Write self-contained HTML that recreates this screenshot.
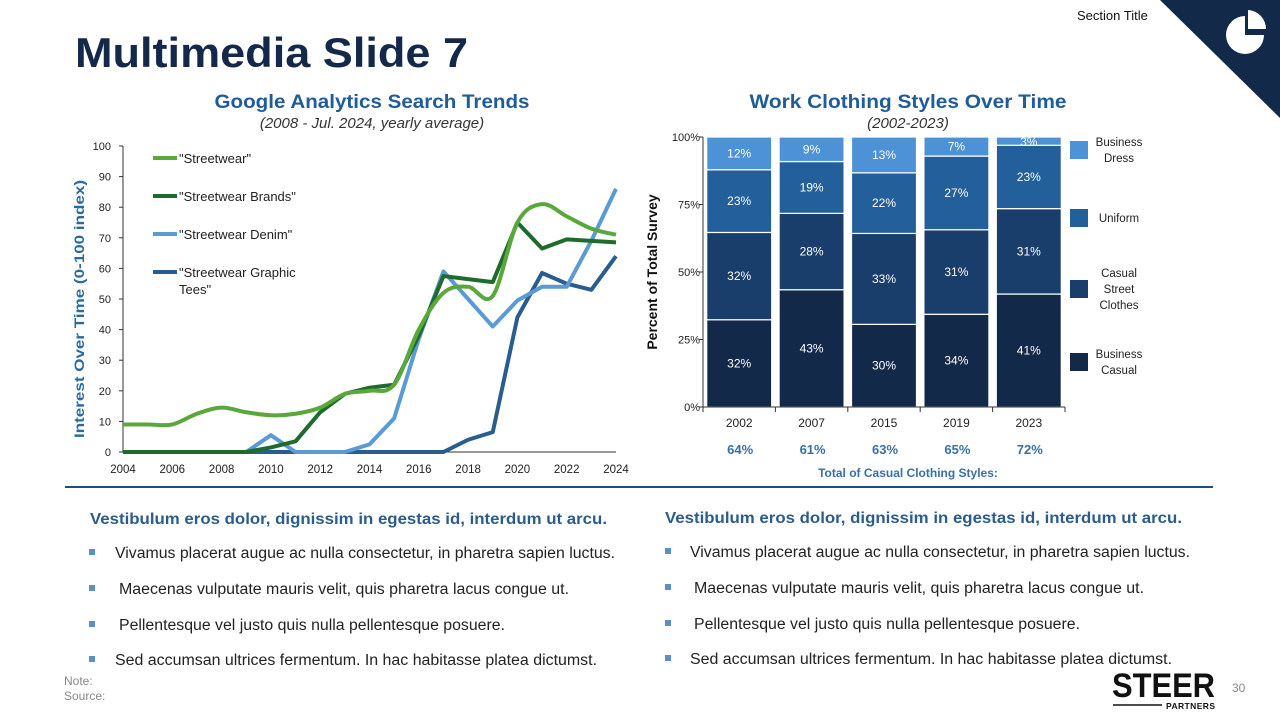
<!DOCTYPE html>
<html><head><meta charset="utf-8">
<style>
html,body{margin:0;padding:0;background:#fff;}
body{width:1280px;height:720px;overflow:hidden;font-family:"Liberation Sans",sans-serif;}
svg text{font-family:"Liberation Sans",sans-serif;}
</style></head>
<body>
<svg id="slide" width="1280" height="720" viewBox="0 0 1280 720" xmlns="http://www.w3.org/2000/svg">
  <polygon points="1160,0 1280,0 1280,118" fill="#13294a"/>
  <g>
    <path d="M1245,16 A19,19 0 1 0 1264,35 L1245,35 Z" fill="#fff"/>
    <path d="M1248,10 A19,19 0 0 1 1266,29 L1248,29 Z" fill="#fff"/>
  </g>
  <text x="1077" y="20" font-size="13" fill="#111">Section Title</text>
  <text x="75" y="67" font-size="42" font-weight="bold" fill="#14294a" textLength="393" lengthAdjust="spacingAndGlyphs">Multimedia Slide 7</text>

  <text x="372" y="108" font-size="19" font-weight="bold" fill="#1f5c99" text-anchor="middle" textLength="315" lengthAdjust="spacingAndGlyphs">Google Analytics Search Trends</text>
  <text x="372" y="128" font-size="15" font-style="italic" fill="#333" text-anchor="middle">(2008 - Jul. 2024, yearly average)</text>
  <g id="lineChart"></g>

  <text x="908" y="108" font-size="19" font-weight="bold" fill="#1f5c99" text-anchor="middle" textLength="317" lengthAdjust="spacingAndGlyphs">Work Clothing Styles Over Time</text>
  <text x="908" y="128" font-size="15" font-style="italic" fill="#333" text-anchor="middle">(2002-2023)</text>
  <g id="barChart"></g>

  <line x1="65" y1="487" x2="1213" y2="487" stroke="#1f4e79" stroke-width="2"/>

  <g>
    <text x="90" y="524" font-size="15.5" font-weight="bold" fill="#2b5c8a" textLength="517" lengthAdjust="spacingAndGlyphs">Vestibulum eros dolor, dignissim in egestas id, interdum ut arcu.</text>
    <rect x="89" y="549" width="6" height="6" fill="#5b8fc7"/><text x="115" y="558" font-size="15.5" fill="#222" textLength="500" lengthAdjust="spacingAndGlyphs">Vivamus placerat augue ac nulla consectetur, in pharetra sapien luctus.</text>
    <rect x="89" y="585" width="6" height="6" fill="#5b8fc7"/><text x="119" y="594" font-size="15.5" fill="#222" textLength="450" lengthAdjust="spacingAndGlyphs">Maecenas vulputate mauris velit, quis pharetra lacus congue ut.</text>
    <rect x="89" y="621" width="6" height="6" fill="#5b8fc7"/><text x="119" y="630" font-size="15.5" fill="#222" textLength="386" lengthAdjust="spacingAndGlyphs">Pellentesque vel justo quis nulla pellentesque posuere.</text>
    <rect x="89" y="656" width="6" height="6" fill="#5b8fc7"/><text x="115" y="665" font-size="15.5" fill="#222" textLength="482" lengthAdjust="spacingAndGlyphs">Sed accumsan ultrices fermentum. In hac habitasse platea dictumst.</text>
  </g>
  <g>
    <text x="665" y="523" font-size="15.5" font-weight="bold" fill="#2b5c8a" textLength="517" lengthAdjust="spacingAndGlyphs">Vestibulum eros dolor, dignissim in egestas id, interdum ut arcu.</text>
    <rect x="665" y="548" width="6" height="6" fill="#5b8fc7"/><text x="690" y="557" font-size="15.5" fill="#222" textLength="500" lengthAdjust="spacingAndGlyphs">Vivamus placerat augue ac nulla consectetur, in pharetra sapien luctus.</text>
    <rect x="665" y="584" width="6" height="6" fill="#5b8fc7"/><text x="694" y="593" font-size="15.5" fill="#222" textLength="450" lengthAdjust="spacingAndGlyphs">Maecenas vulputate mauris velit, quis pharetra lacus congue ut.</text>
    <rect x="665" y="620" width="6" height="6" fill="#5b8fc7"/><text x="694" y="629" font-size="15.5" fill="#222" textLength="386" lengthAdjust="spacingAndGlyphs">Pellentesque vel justo quis nulla pellentesque posuere.</text>
    <rect x="665" y="655" width="6" height="6" fill="#5b8fc7"/><text x="690" y="664" font-size="15.5" fill="#222" textLength="482" lengthAdjust="spacingAndGlyphs">Sed accumsan ultrices fermentum. In hac habitasse platea dictumst.</text>
  </g>
  <text x="64" y="685" font-size="12" fill="#888">Note:</text>
  <text x="64" y="700" font-size="12" fill="#888">Source:</text>
  <g>
    <text x="1112" y="697" font-size="34" font-weight="bold" fill="#111" textLength="103" lengthAdjust="spacingAndGlyphs">STEER</text>
    <line x1="1113" y1="705" x2="1162" y2="705" stroke="#111" stroke-width="1.5"/>
    <text x="1166" y="709" font-size="8.5" font-weight="bold" fill="#111" textLength="49">PARTNERS</text>
  </g>
  <text x="1232" y="692" font-size="12" fill="#888">30</text>
</svg>
<script>
const NS="http://www.w3.org/2000/svg";
function mk(parent,tag,attrs,txt){const e=document.createElementNS(NS,tag);for(const k in attrs)e.setAttribute(k,attrs[k]);if(txt!==undefined)e.textContent=txt;parent.appendChild(e);return e;}

// ---- Line chart data ----
const years=[2004,2005,2006,2007,2008,2009,2010,2011,2012,2013,2014,2015,2016,2017,2018,2019,2020,2021,2022,2023,2024];
const streetwear=[9,9,9,12.5,14.5,13,12,12.5,14.5,19,20,22,40,52,54,51,75,81,77,73,71];
const streetwearBrands=[0,0,0,0,0,0,1.5,3.5,13,19,21,22,38,57.5,56.5,55.5,75,66.5,69.5,69,68.5];
const streetwearDenim=[0,0,0,0,0,0,5.5,0,0,0,2.5,11,37,59,50,41,49.5,54,54,69,86];
const streetwearGraphic=[0,0,0,0,0,0,0,0,0,0,0,0,0,0,4,6.5,44,58.5,55,53,64];
const yTicks=[0,10,20,30,40,50,60,70,80,90,100];
const xTickLabels=[2004,2006,2008,2010,2012,2014,2016,2018,2020,2022,2024];

const lc=document.getElementById('lineChart');
const X0=123,X1=616,Y0=452,Y1=146;
const lx=y=>X0+(y-2004)/(2024-2004)*(X1-X0);
const ly=v=>Y0-v/100*(Y0-Y1);
mk(lc,'line',{x1:X0,y1:Y1,x2:X0,y2:Y0,stroke:'#333','stroke-width':1});
mk(lc,'line',{x1:X0,y1:Y0,x2:X1,y2:Y0,stroke:'#333','stroke-width':1});
yTicks.forEach(t=>{
  mk(lc,'line',{x1:X0-4,y1:ly(t),x2:X0,y2:ly(t),stroke:'#333'});
  const e=mk(lc,'text',{x:X0-12,y:ly(t)+4,'font-size':11,'text-anchor':'end',fill:'#222'},t);
  
  
});
xTickLabels.forEach(t=>{
  const e=mk(lc,'text',{x:lx(t),y:473,'font-size':11.5,'text-anchor':'middle',fill:'#222'},t);
  
  
});
const yt=mk(lc,'text',{x:0,y:0,'font-size':14,'font-weight':'bold',fill:'#2b6aa0','text-anchor':'middle',textLength:258,lengthAdjust:'spacingAndGlyphs',transform:'translate(84,309) rotate(-90)'},'Interest Over Time (0-100 index)');



function smoothPath(pts){
  let d='M'+pts[0][0]+','+pts[0][1];
  for(let i=0;i<pts.length-1;i++){
    const p0=pts[Math.max(0,i-1)],p1=pts[i],p2=pts[i+1],p3=pts[Math.min(pts.length-1,i+2)];
    const c1=[p1[0]+(p2[0]-p0[0])/6,p1[1]+(p2[1]-p0[1])/6];
    const c2=[p2[0]-(p3[0]-p1[0])/6,p2[1]-(p3[1]-p1[1])/6];
    d+=' C'+c1+' '+c2+' '+p2;
  }
  return d;
}
const series=[
  {vals:streetwear,color:'#5aa83c',smooth:true,name:'series-streetwear'},
  {vals:streetwearBrands,color:'#1f6b2c',smooth:false,name:'series-streetwear-brands'},
  {vals:streetwearDenim,color:'#5b9bd5',smooth:false,name:'series-streetwear-denim'},
  {vals:streetwearGraphic,color:'#2a5d8f',smooth:false,name:'series-streetwear-graphic-tees'}
];
[3,2,1,0].forEach(i=>{
  const s=series[i];
  const pts=years.map((y,j)=>[lx(y),ly(s.vals[j])]);
  const d=s.smooth?smoothPath(pts):'M'+pts.map(p=>p.join(',')).join(' L');
  const e=mk(lc,'path',{d:d,fill:'none',stroke:s.color,'stroke-width':4,'stroke-linejoin':'round'});
  
  
});
const legendLabels=[['"Streetwear"'],['"Streetwear Brands"'],['"Streetwear Denim"'],['"Streetwear Graphic','Tees"']];
const legendY=[158,196,234,272];
legendLabels.forEach((lab,i)=>{
  const g=mk(lc,'g',{});
  
  
  mk(g,'line',{x1:153,y1:legendY[i],x2:177,y2:legendY[i],stroke:series[i].color,'stroke-width':4});
  lab.forEach((t,k)=>mk(g,'text',{x:179,y:legendY[i]+5+k*17,'font-size':13,fill:'#222'},t));
});

// ---- Bar chart data ----
const barYears=['2002','2007','2015','2019','2023'];
const businessCasual=[32,43,30,34,41];
const casualStreet=[32,28,33,31,31];
const uniform=[23,19,22,27,23];
const businessDress=[12,9,13,7,3];
const casualTotals=['64%','61%','63%','65%','72%'];
const pctTicks=[0,25,50,75,100];

const bc=document.getElementById('barChart');
const BX0=703,BX1=1065,BY0=407,BY1=137;
const by=p=>BY0-p/100*(BY0-BY1);
const catW=(BX1-BX0)/barYears.length;
const barW=65;
const segColors=['#13294a','#1a3e6b','#235f9b','#4d92d6'];
const segNames=['bar-business-casual','bar-casual-street','bar-uniform','bar-business-dress'];
const stacks=[businessCasual,casualStreet,uniform,businessDress];
barYears.forEach((yr,i)=>{
  const total=stacks.reduce((a,s)=>a+s[i],0);
  let acc=0;
  const cx=BX0+catW*(i+0.5);
  stacks.forEach((s,k)=>{
    const p0=acc/total*100,p1=(acc+s[i])/total*100;acc+=s[i];
    const r=mk(bc,'rect',{x:cx-barW/2,y:by(p1),width:barW,height:by(p0)-by(p1),fill:segColors[k],stroke:'#fff','stroke-width':1.2});
    
    
    const ty=(by(p0)+by(p1))/2+4;
    mk(bc,'text',{x:cx,y:Math.max(ty,BY1+9),'font-size':12,fill:'#fff','text-anchor':'middle'},s[i]+'%');
  });
  const xl=mk(bc,'text',{x:cx,y:427,'font-size':12,fill:'#222','text-anchor':'middle'},yr);
  
  
  const tl=mk(bc,'text',{x:cx+1,y:454,'font-size':13,'font-weight':'bold',fill:'#3a6fa5','text-anchor':'middle'},casualTotals[i]);
  
  
  mk(bc,'line',{x1:BX0+catW*(i+1),y1:BY0,x2:BX0+catW*(i+1),y2:BY0+5,stroke:'#333'});
});
mk(bc,'line',{x1:BX0,y1:BY1,x2:BX0,y2:BY0+5,stroke:'#333'});
mk(bc,'line',{x1:BX0,y1:BY0,x2:BX1,y2:BY0,stroke:'#333'});
pctTicks.forEach(t=>{
  mk(bc,'line',{x1:BX0-4,y1:by(t),x2:BX0,y2:by(t),stroke:'#333'});
  const e=mk(bc,'text',{x:BX0-3,y:by(t)+4,'font-size':11,'text-anchor':'end',fill:'#222'},t+'%');
  
  
});
const byt=mk(bc,'text',{x:0,y:0,'font-size':14,'font-weight':'bold',fill:'#111','text-anchor':'middle',transform:'translate(657,272) rotate(-90)'},'Percent of Total Survey');


const bxt=mk(bc,'text',{x:908,y:477,'font-size':12,'font-weight':'bold',fill:'#3a6fa5','text-anchor':'middle'},'Total of Casual Clothing Styles:');


const legItems=[[['Business','Dress'],3,141],[['Uniform'],2,209],[['Casual','Street','Clothes'],1,280],[['Business','Casual'],0,353]];
legItems.forEach(([lab,ci,yy])=>{
  const g=mk(bc,'g',{});
  
  
  mk(g,'rect',{x:1070,y:yy,width:18,height:18,fill:segColors[ci]});
  const start=yy+9-(lab.length-1)*8+4;
  lab.forEach((t,k)=>mk(g,'text',{x:1119,y:start+k*16,'font-size':11.5,fill:'#222','text-anchor':'middle'},t));
});
</script>
</body></html>
